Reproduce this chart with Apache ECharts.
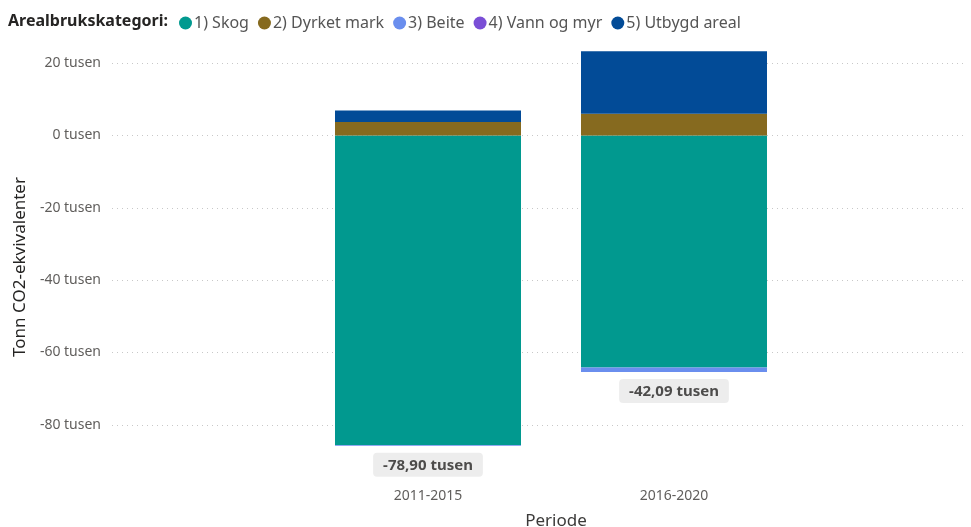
<!DOCTYPE html>
<html>
<head>
<meta charset="utf-8">
<script src="https://cdn.jsdelivr.net/npm/echarts@6/dist/echarts.min.js"></script>
<style>
  html, body { margin: 0; padding: 0; background: #fff; }
  #chart { width: 971px; height: 527px; }
</style>
</head>
<body>
<div id="chart"></div>
<script>
// Net emissions per land-use category (thousand tonnes CO2-equivalents)
const periods = ['2011-2015', '2016-2020'];
const categoryNames = ['1) Skog', '2) Dyrket mark', '3) Beite', '4) Vann og myr', '5) Utbygd areal'];
const skog = [-85.55, -64.17];
const dyrketMark = [3.68, 6.01];
const beite = [-0.25, -1.20];
const vannOgMyr = [0, 0];
const utbygdAreal = [3.22, 17.27];
const yTicks = [20, 0, -20, -40, -60, -80];

const colors = ['#01998F', '#866A1F', '#6A8EEE', '#7A4ED6', '#024B97'];
const seriesValues = [skog, dyrketMark, beite, vannOgMyr, utbygdAreal];

const fontFamily = '"Segoe UI", "Noto Sans", "Open Sans", sans-serif';
const fmtTusen = v => v.toFixed(2).replace('.', ',') + ' tusen';

// totals and lowest point of each stacked bar (where the total label sits)
const totals = periods.map((_, i) => seriesValues.reduce((s, arr) => s + arr[i], 0));
const negBottoms = periods.map((_, i) => seriesValues.reduce((s, arr) => s + Math.min(0, arr[i]), 0));

const yMin = -90, yMax = 25;

const barSeries = categoryNames.map((name, k) => ({
  name,
  type: 'bar',
  stack: 'total',
  xAxisIndex: 1,
  yAxisIndex: 1,
  barWidth: 186,
  itemStyle: { color: colors[k] },
  emphasis: { disabled: true },
  data: seriesValues[k]
}));

const chart = echarts.init(document.getElementById('chart'));
chart.setOption({
  animation: false,
  textStyle: { fontFamily },
  title: {
    text: 'Arealbrukskategori:',
    left: 3,
    top: 8,
    textStyle: { fontSize: 16, fontWeight: 'bold', color: '#252423', fontFamily }
  },
  legend: {
    left: 174,
    top: 10,
    icon: 'circle',
    itemWidth: 13,
    itemHeight: 13,
    itemGap: 9,
    textStyle: { fontSize: 16, color: '#555', fontFamily, padding: [0, 0, 0, -3] },
    data: categoryNames
  },
  grid: [
    { left: 112, right: 6, top: 45, bottom: 66, containLabel: false, outerBoundsMode: 'none' },
    { left: 305, right: 174, top: 45, bottom: 66, containLabel: false, outerBoundsMode: 'none' }
  ],
  xAxis: [
    { type: 'category', gridIndex: 0, show: false, data: periods },
    {
      type: 'category',
      gridIndex: 1,
      data: periods,
      axisLine: { show: false },
      axisTick: { show: false },
      axisLabel: { margin: 28, fontSize: 14, color: '#605E5C', fontFamily },
      name: 'Periode',
      nameLocation: 'middle',
      nameGap: 52,
      nameTextStyle: { fontSize: 17, color: '#3B3A39', fontFamily, padding: [0, 0, 0, 10] }
    }
  ],
  yAxis: [
    {
      type: 'value',
      gridIndex: 0,
      min: yMin,
      max: yMax,
      minInterval: 20,
      maxInterval: 20,
      axisLine: { show: false },
      axisTick: { show: false },
      axisLabel: {
        margin: 11,
        fontSize: 14,
        color: '#605E5C',
        fontFamily,
        showMinLabel: false,
        showMaxLabel: false,
        formatter: v => (yTicks.indexOf(v) >= 0 ? v + ' tusen' : '')
      },
      splitLine: {
        show: true,
        showMinLine: false,
        showMaxLine: false,
        lineStyle: { color: '#C8C8C8', type: [1, 4], width: 1 }
      },
      name: 'Tonn CO2-ekvivalenter',
      nameLocation: 'middle',
      nameGap: 83,
      nameTextStyle: { fontSize: 17, color: '#252423', fontFamily, padding: [0, 28, 0, 0] }
    },
    { type: 'value', gridIndex: 1, min: yMin, max: yMax, show: false }
  ],
  series: [
    ...barSeries,
    {
      name: 'Sum',
      type: 'scatter',
      xAxisIndex: 1,
      yAxisIndex: 1,
      symbolSize: 0,
      silent: true,
      data: periods.map((p, i) => [p, negBottoms[i]]),
      label: {
        show: true,
        position: 'bottom',
        distance: 7,
        formatter: params => fmtTusen(totals[params.dataIndex]),
        backgroundColor: '#E8E8E8',
        borderRadius: 4,
        padding: [5, 10, 4, 10],
        fontSize: 15,
        fontWeight: 'bold',
        color: '#252423',
        fontFamily
      }
    }
  ]
});
</script>
</body>
</html>
